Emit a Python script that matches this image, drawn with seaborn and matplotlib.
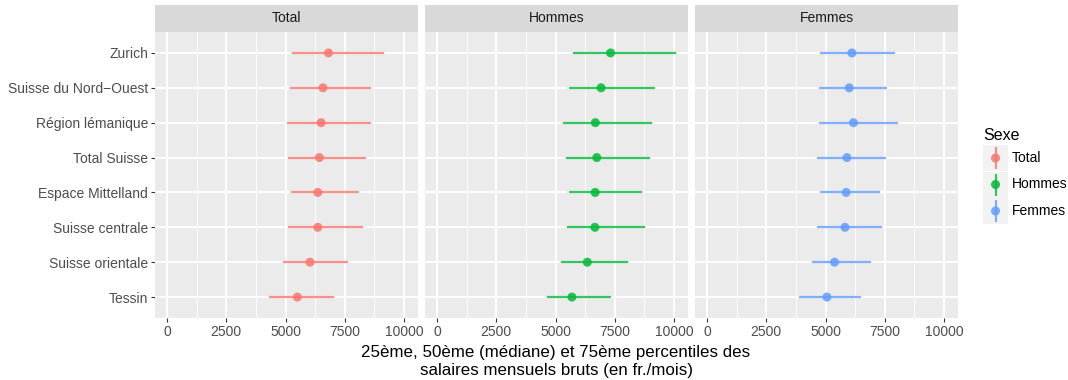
import numpy as np
import pandas as pd
import matplotlib
matplotlib.use("Agg")
import matplotlib.pyplot as plt
from matplotlib.patches import Rectangle
import seaborn as sns

regions = ["Zurich", "Suisse du Nord\u2212Ouest", "Région lémanique", "Total Suisse",
           "Espace Mittelland", "Suisse centrale", "Suisse orientale", "Tessin"]
sexes = ["Total", "Hommes", "Femmes"]

# 25e, 50e, 75e percentiles (fr./mois), same order as regions
total_p25 = [5280, 5200, 5060, 5120, 5220, 5120, 4880, 4320]
total_p50 = [6810, 6580, 6500, 6430, 6360, 6360, 6030, 5500]
total_p75 = [9160, 8590, 8600, 8390, 8090, 8250, 7650, 7030]

hommes_p25 = [5720, 5550, 5300, 5450, 5550, 5470, 5250, 4620]
hommes_p50 = [7320, 6920, 6680, 6740, 6670, 6660, 6340, 5690]
hommes_p75 = [10080, 9180, 9060, 8990, 8650, 8790, 8070, 7340]

femmes_p25 = [4750, 4720, 4720, 4650, 4750, 4620, 4410, 3900]
femmes_p50 = [6110, 6000, 6180, 5900, 5870, 5820, 5380, 5060]
femmes_p75 = [7920, 7590, 8060, 7560, 7290, 7380, 6910, 6510]

colors = {"Total": "#F8766D", "Hommes": "#00BA38", "Femmes": "#619CFF"}

rows = []
for sexe, p25, p50, p75 in [("Total", total_p25, total_p50, total_p75),
                            ("Hommes", hommes_p25, hommes_p50, hommes_p75),
                            ("Femmes", femmes_p25, femmes_p50, femmes_p75)]:
    for i, r in enumerate(regions):
        rows.append({"Sexe": sexe, "region": r, "pos": len(regions) - 1 - i,
                     "p25": p25[i], "p50": p50[i], "p75": p75[i]})
df = pd.DataFrame(rows)

sns.set_theme(style="darkgrid")
plt.rcParams["font.family"] = ["Liberation Sans", "DejaVu Sans"]

W, H = 1068, 380
fig = plt.figure(figsize=(W / 100, H / 100), dpi=100)

panel_left = [155, 425, 695]
panel_w = 263
panel_top, panel_bot = 32, 318
strip_top = 5

for k, sexe in enumerate(sexes):
    x0 = panel_left[k]
    ax = fig.add_axes([x0 / W, (H - panel_bot) / H, panel_w / W, (panel_bot - panel_top) / H])
    sub = df[df["Sexe"] == sexe]
    ax.set_facecolor("#EBEBEB")
    ax.set_xlim(-504, 10586)
    ax.set_ylim(-0.6, len(regions) - 1 + 0.6)
    ax.set_xticks([0, 2500, 5000, 7500, 10000])
    ax.set_xticks([1250, 3750, 6250, 8750], minor=True)
    ax.set_yticks(range(len(regions)))
    ax.grid(False)
    for v in [1250, 3750, 6250, 8750]:
        ax.axvline(v, color="white", lw=0.6, zorder=0.5)
    for v in [0, 2500, 5000, 7500, 10000]:
        ax.axvline(v, color="white", lw=1.3, zorder=0.6)
    for p in range(len(regions)):
        ax.axhline(p, color="white", lw=1.3, zorder=0.6)

    ax.hlines(sub["pos"], sub["p25"], sub["p75"], color=colors[sexe], lw=1.6, alpha=0.8, zorder=2)
    sns.scatterplot(data=sub, x="p50", y="pos", color=colors[sexe], s=42, alpha=0.85,
                    edgecolor="none", ax=ax, zorder=3, legend=False)

    ax.set_xlabel("")
    ax.set_ylabel("")
    for s in ax.spines.values():
        s.set_visible(False)
    ax.tick_params(axis="x", which="major", bottom=True, length=3, width=0.8, color="#333333",
                   labelsize=10, labelcolor="#4D4D4D", pad=2)
    ax.tick_params(axis="x", which="minor", length=0)
    ax.set_xticklabels(["0", "2500", "5000", "7500", "10000"])
    if k == 0:
        ax.set_yticklabels(list(reversed(regions)))
        ax.tick_params(axis="y", left=True, length=3, width=0.8, color="#333333",
                       labelsize=10, labelcolor="#4D4D4D", pad=2)
    else:
        ax.set_yticklabels([])
        ax.tick_params(axis="y", length=0)

    sax = fig.add_axes([x0 / W, (H - panel_top) / H, panel_w / W, (panel_top - strip_top) / H])
    sax.set_facecolor("#D9D9D9")
    sax.grid(False)
    sax.set_xticks([])
    sax.set_yticks([])
    for s in sax.spines.values():
        s.set_visible(False)
    sax.text(0.5, 0.5, sexe, ha="center", va="center", fontsize=10, color="#1A1A1A",
             transform=sax.transAxes)

fig.text(556 / W, 1 - 345 / H,
         "25ème, 50ème (médiane) et 75ème percentiles des\nsalaires mensuels bruts (en fr./mois)",
         ha="center", va="top", fontsize=12.2, color="black", linespacing=1.28)

# legend (ggplot style, keys with pointrange glyph)
lax = fig.add_axes([965 / W, (H - 230) / H, 103 / W, 110 / H])
lax.set_xlim(0, 103)
lax.set_ylim(110, 0)
lax.axis("off")
lax.text(18, 15, "Sexe", fontsize=11.5, color="black", ha="left", va="center")
for i, sexe in enumerate(sexes):
    top = 25 + 26.5 * i
    lax.add_patch(Rectangle((18, top), 25, 26, facecolor="#F2F2F2", edgecolor="none"))
    lax.vlines(30.5, top + 2, top + 24, color=colors[sexe], lw=1.6, alpha=0.8)
    lax.scatter([30.5], [top + 13], s=42, color=colors[sexe], alpha=0.85, edgecolor="none", zorder=3)
    lax.text(47, top + 13, sexe, fontsize=10, color="black", ha="left", va="center")

fig.savefig("out.png", dpi=100)
